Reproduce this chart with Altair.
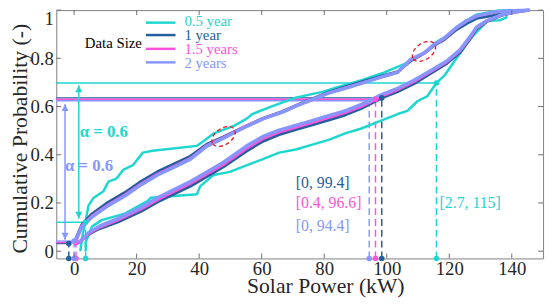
import altair as alt
import pandas as pd

W, H = 494, 252
XMIN, XMAX = -5.7, 150.0
YMIN, YMAX = -0.03, 1.0
FONT = "Liberation Serif"
INK = "#262626"

series = ["0.5 year", "1 year", "1.5 years", "2 years"]
colors = ["#1ed6d0", "#235f9c", "#ff52dc", "#8796ff"]
widths = [2.5, 3.0, 3.0, 3.5]

x_ticks = [0, 20, 40, 60, 80, 100, 120, 140]
y_ticks = [0, 0.2, 0.4, 0.6, 0.8, 1.0]

# ---- CDF band curves: upper bound (left curve) and lower bound (right curve) ----
c05_up_x = [2.0, 2.6, 3.6, 4.6, 6.2, 9.4, 11.0, 13.5, 15.7, 18.8, 22.0, 25.1, 39.3, 41.5, 44.7, 51.3, 55.1,
            57.0, 62.4, 70.9, 79.4, 83.5, 92.0, 98.3, 106.5, 111.9, 116.0, 119.8, 124.5, 128.6, 135.0, 139.3, 145.6]
c05_up_y = [0.0, 0.06, 0.12, 0.189, 0.221, 0.249, 0.289, 0.301, 0.337, 0.357, 0.409, 0.417, 0.437, 0.457, 0.489,
            0.521, 0.549, 0.569, 0.597, 0.637, 0.661, 0.677, 0.709, 0.737, 0.781, 0.821, 0.869, 0.897, 0.949,
            0.981, 0.997, 1.0, 1.0]
c05_lo_x = [3.7, 3.7, 5.7, 8.8, 16.2, 23.6, 24.5, 39.3, 40.3, 44.6, 49.8, 55.1, 60.4, 65.6, 70.9, 76.2, 81.4,
            86.7, 91.9, 98.2, 103.5, 106.6, 109.8, 112.9, 115.9, 118.5, 121.3, 124.3, 126.3, 128.3, 130.3,
            132.3, 136.1, 138.2, 138.4, 145.6]
c05_lo_y = [0.0, 0.037, 0.102, 0.129, 0.156, 0.209, 0.222, 0.236, 0.269, 0.316, 0.329, 0.356, 0.382, 0.409,
            0.422, 0.442, 0.462, 0.489, 0.509, 0.542, 0.569, 0.582, 0.622, 0.642, 0.698, 0.729, 0.782, 0.836,
            0.876, 0.902, 0.929, 0.956, 0.958, 0.969, 0.997, 1.0]

c1_up_x = [0.0, 2.5, 5.7, 10.9, 16.2, 21.5, 26.7, 32.0, 37.2, 42.5, 47.8, 55.1, 60.4, 66.7, 70.9, 76.2, 81.4,
           86.7, 91.9, 98.2, 103.5, 107.7, 111.9, 115.0, 118.2, 122.4, 125.6, 128.7, 133.0, 138.0, 145.6]
c1_up_y = [0.035, 0.11, 0.155, 0.203, 0.243, 0.29, 0.33, 0.362, 0.394, 0.444, 0.474, 0.52, 0.551, 0.58, 0.604,
           0.632, 0.66, 0.682, 0.702, 0.726, 0.745, 0.79, 0.82, 0.852, 0.876, 0.92, 0.945, 0.966, 0.975, 0.99, 1.0]
c1_lo_x = [0.0, 2.0, 4.6, 7.8, 14.1, 21.5, 26.7, 32.0, 37.2, 42.5, 47.8, 55.1, 60.4, 65.6, 70.9, 76.2, 81.4,
           86.7, 91.9, 96.1, 98.4, 103.5, 108.7, 114.0, 119.2, 123.5, 126.6, 128.7, 131.9, 137.1, 141.3, 145.6]
c1_lo_y = [0.03, 0.04, 0.07, 0.092, 0.122, 0.166, 0.204, 0.238, 0.27, 0.31, 0.35, 0.415, 0.456, 0.484, 0.504,
           0.524, 0.544, 0.565, 0.592, 0.62, 0.636, 0.662, 0.695, 0.737, 0.779, 0.826, 0.879, 0.922, 0.952,
           0.98, 0.992, 1.0]

c15_up_x = [0.3, 2.5, 5.7, 10.9, 16.2, 21.5, 26.7, 32.0, 37.2, 42.5, 47.8, 55.1, 60.4, 66.7, 70.9, 76.2, 81.4,
            86.7, 91.9, 98.2, 103.5, 107.7, 111.9, 115.0, 118.2, 122.4, 125.6, 128.7, 135.0, 145.6]
c15_up_y = [0.03, 0.105, 0.146, 0.193, 0.233, 0.28, 0.32, 0.352, 0.385, 0.439, 0.471, 0.519, 0.55, 0.578, 0.603,
            0.63, 0.657, 0.677, 0.697, 0.722, 0.742, 0.795, 0.821, 0.855, 0.88, 0.927, 0.955, 0.975, 0.993, 1.0]
c15_lo_x = [0.6, 2.5, 4.6, 7.8, 14.1, 21.5, 26.7, 32.0, 37.2, 42.5, 47.8, 55.1, 60.4, 65.6, 70.9, 76.2, 81.4,
            86.7, 91.9, 96.4, 98.2, 103.5, 108.7, 114.0, 119.2, 123.5, 126.6, 128.7, 131.9, 137.1, 141.3, 145.6]
c15_lo_y = [0.03, 0.045, 0.073, 0.097, 0.13, 0.175, 0.214, 0.248, 0.281, 0.32, 0.36, 0.426, 0.467, 0.494, 0.514,
            0.534, 0.554, 0.575, 0.601, 0.629, 0.642, 0.67, 0.703, 0.744, 0.785, 0.832, 0.885, 0.926, 0.954,
            0.981, 0.993, 1.0]

c2_up_x = [-0.1, 2.5, 5.7, 10.9, 16.2, 21.5, 26.7, 32.0, 37.2, 42.5, 47.8, 49.7, 55.1, 60.4, 66.7, 70.9, 76.2,
           81.4, 86.7, 91.9, 98.2, 103.5, 107.7, 111.9, 115.0, 118.2, 122.4, 125.6, 128.7, 135.0, 140.0, 145.6]
c2_up_y = [0.029, 0.102, 0.142, 0.189, 0.229, 0.276, 0.316, 0.349, 0.382, 0.436, 0.469, 0.482, 0.517, 0.549,
           0.577, 0.602, 0.629, 0.656, 0.676, 0.696, 0.722, 0.742, 0.796, 0.822, 0.856, 0.882, 0.929, 0.956,
           0.976, 0.993, 0.998, 1.0]
c2_lo_x = [0.0, 1.5, 4.6, 7.8, 14.1, 21.5, 26.7, 32.0, 37.2, 42.5, 47.8, 55.1, 60.4, 65.6, 70.9, 76.2, 81.4,
           86.7, 91.9, 94.4, 98.2, 103.5, 108.7, 114.0, 119.2, 123.5, 126.6, 128.7, 131.9, 137.1, 141.3, 145.6]
c2_lo_y = [0.03, 0.035, 0.077, 0.102, 0.136, 0.182, 0.222, 0.256, 0.289, 0.329, 0.369, 0.436, 0.476, 0.502,
           0.522, 0.542, 0.562, 0.582, 0.609, 0.624, 0.649, 0.676, 0.709, 0.749, 0.789, 0.836, 0.889, 0.929,
           0.956, 0.982, 0.993, 1.0]

curves = [
    ("0.5 year", "upper", c05_up_x, c05_up_y), ("0.5 year", "lower", c05_lo_x, c05_lo_y),
    ("1 year", "upper", c1_up_x, c1_up_y), ("1 year", "lower", c1_lo_x, c1_lo_y),
    ("1.5 years", "upper", c15_up_x, c15_up_y), ("1.5 years", "lower", c15_lo_x, c15_lo_y),
    ("2 years", "upper", c2_up_x, c2_up_y), ("2 years", "lower", c2_lo_x, c2_lo_y),
]

# ---- interval (alpha = 0.6) markers ----
iv_series = series
iv_x_hi = [115.9, 98.4, 96.4, 94.4]
iv_level_hi = [0.698, 0.636, 0.630, 0.624]
iv_x_lo = [3.7, -1.7, 0.6, 0.0]
iv_level_lo = [0.12, 0.032, 0.036, 0.042]

arrow_series = ["0.5 year", "2 years"]
arrow_x = [1.5, -2.9]
arrow_lo = [0.135, 0.048]
arrow_hi = [0.688, 0.61]

alpha_text = ["α = 0.6", "α = 0.6"]
alpha_x = [1.8, -2.9]
alpha_y = [0.493, 0.353]

ann_text = ["[2.7, 115]", "[0, 99.4]", "[0.4, 96.6]", "[0, 94.4]"]
ann_series = series
ann_x = [116.9, 70.9, 70.9, 70.9]
ann_y = [0.198, 0.282, 0.198, 0.105]

ell_x = [47.8, 111.9]
ell_y = [0.476, 0.829]

# ---------------- build tables ----------------
rows = []
for s, b, xs, ys in curves:
    for i, (xv, yv) in enumerate(zip(xs, ys)):
        rows.append({"series": s, "bound": b, "x": xv, "y": yv, "i": i})
curve_df = pd.DataFrame(rows)

hl_df = pd.DataFrame({
    "series": iv_series + iv_series,
    "xs": [XMIN] * 8,
    "xe": iv_x_hi + iv_x_lo,
    "level": iv_level_hi + iv_level_lo,
    "ybot": [YMIN] * 8,
})
arrow_df = pd.DataFrame({"series": arrow_series, "x": arrow_x, "lo": arrow_lo, "hi": arrow_hi})
alpha_df = pd.DataFrame({"series": arrow_series, "x": alpha_x, "y": alpha_y, "t": alpha_text})
ann_df = pd.DataFrame({"series": ann_series, "x": ann_x, "y": ann_y, "t": ann_text})
ell_df = pd.DataFrame({"x": ell_x, "y": ell_y})

# ---------------- scales / axes ----------------
xscale = alt.Scale(domain=[XMIN, XMAX], nice=False, zero=False)
yscale = alt.Scale(domain=[YMIN, YMAX], nice=False, zero=False)
xaxis = alt.Axis(values=x_ticks, title="Solar Power (kW)", grid=False, domain=False, ticks=False,
                 labelFont=FONT, labelFontSize=19, labelColor=INK, labelPadding=1,
                 titleFont=FONT, titleFontSize=22, titleFontWeight="normal", titleColor=INK,
                 titleX=273, titleY=35, titleBaseline="alphabetic", titleAlign="center")
yaxis = alt.Axis(values=y_ticks, format="~g", title="Cumulative Probability (-)", grid=False, domain=False,
                 ticks=False, labelFont=FONT, labelFontSize=19, labelColor=INK, labelPadding=3,
                 labelFlush=True,
                 titleFont=FONT, titleFontSize=22, titleFontWeight="normal", titleColor=INK,
                 titleX=-30, titleY=130, titleBaseline="alphabetic", titleAlign="center")


def X(f="x"):
    return alt.X(f"{f}:Q", scale=xscale, axis=xaxis)


def Y(f="y"):
    return alt.Y(f"{f}:Q", scale=yscale, axis=yaxis)


cscale = alt.Scale(domain=series, range=colors)


def C():
    return alt.Color("series:N", scale=cscale, legend=None)


layers = []

# horizontal level lines
layers.append(alt.Chart(hl_df).mark_rule(strokeWidth=1.5).encode(
    x=X("xs"), x2=alt.X2("xe"), y=Y("level"), color=C()))
# vertical dashed lines
layers.append(alt.Chart(hl_df).mark_rule(strokeWidth=1.5, strokeDash=[7, 4]).encode(
    x=X("xe"), y=Y("ybot"), y2=alt.Y2("level"), color=C()))
# arrows
layers.append(alt.Chart(arrow_df).mark_rule(strokeWidth=1.5).encode(
    x=X("x"), y=Y("lo"), y2=alt.Y2("hi"), color=C()))
layers.append(alt.Chart(arrow_df).mark_point(shape="M0,0L-0.5,1L0.5,1Z", size=196, filled=True, opacity=1).encode(
    x=X("x"), y=Y("hi"), color=C()))
layers.append(alt.Chart(arrow_df).mark_point(shape="M0,0L-0.5,-1L0.5,-1Z", size=196, filled=True, opacity=1).encode(
    x=X("x"), y=Y("lo"), color=C()))

# curves
for s, w in zip(series, widths):
    layers.append(alt.Chart(curve_df[curve_df.series == s]).mark_line(strokeWidth=w, strokeJoin="round").encode(
        x=X(), y=Y(), color=C(), detail="bound:N", order="i:Q"))

# dots
layers.append(alt.Chart(hl_df).mark_point(filled=True, size=32, opacity=1).encode(
    x=X("xe"), y=Y("level"), color=C()))
layers.append(alt.Chart(hl_df).mark_point(filled=True, size=32, opacity=1).encode(
    x=X("xe"), y=Y("ybot"), color=C()))

# ellipses
ellipse = "M-1,0A1,0.62,0,1,0,1,0A1,0.62,0,1,0,-1,0Z"
layers.append(alt.Chart(ell_df).mark_point(shape=ellipse, size=700, angle=325, filled=False, color="#e8202a",
                                           strokeWidth=1.4, strokeDash=[4, 3], opacity=1).encode(
    x=X(), y=Y()))

# texts
layers.append(alt.Chart(ann_df).mark_text(font=FONT, fontSize=16, align="left", baseline="middle").encode(
    x=X(), y=Y(), text="t:N", color=C()))
layers.append(alt.Chart(alpha_df).mark_text(font=FONT, fontSize=17, fontWeight="bold", align="left",
                                            baseline="middle").encode(
    x=X(), y=Y(), text="t:N", color=C()))

# inward ticks on all four sides
xt = pd.DataFrame({"x": x_ticks})
yt = pd.DataFrame({"y": y_ticks})
TC = "#707070"
layers.append(alt.Chart(xt).mark_rule(color=TC, strokeWidth=1).encode(x=X(), y=alt.value(H), y2=alt.value(H - 5)))
layers.append(alt.Chart(xt).mark_rule(color=TC, strokeWidth=1).encode(x=X(), y=alt.value(0), y2=alt.value(5)))
layers.append(alt.Chart(yt).mark_rule(color=TC, strokeWidth=1).encode(y=Y(), x=alt.value(0), x2=alt.value(5)))
layers.append(alt.Chart(yt).mark_rule(color=TC, strokeWidth=1).encode(y=Y(), x=alt.value(W), x2=alt.value(W - 5)))

# manual legend
leg_line_y = [12.7, 25.3, 39.3, 53.0]
leg_text_y = [11.5, 25.0, 39.7, 53.7]
for s, col, ly, ty in zip(series, colors, leg_line_y, leg_text_y):
    d = pd.DataFrame({"t": [s]})
    layers.append(alt.Chart(d).mark_rule(strokeWidth=2.5, color=col).encode(
        x=alt.value(91), x2=alt.value(121), y=alt.value(ly)))
    layers.append(alt.Chart(d).mark_text(font=FONT, fontSize=15, align="left", baseline="middle", color=col).encode(
        x=alt.value(130), y=alt.value(ty), text="t:N"))
layers.append(alt.Chart(pd.DataFrame({"t": ["Data Size"]})).mark_text(
    font=FONT, fontSize=15, align="left", baseline="middle", color="black").encode(
    x=alt.value(29), y=alt.value(33), text="t:N"))

chart = alt.layer(*layers).properties(
    width=W, height=H,
    autosize=alt.AutoSizeParams(type="none"),
    padding={"left": 49, "top": 0, "right": 4, "bottom": 39},
    background="white",
).configure(font=FONT).configure_view(
    stroke="#808080", strokeWidth=1
).configure_axis(labelFont=FONT, titleFont=FONT)

chart.save("out.html", embed_options={"renderer": "svg", "actions": False})
